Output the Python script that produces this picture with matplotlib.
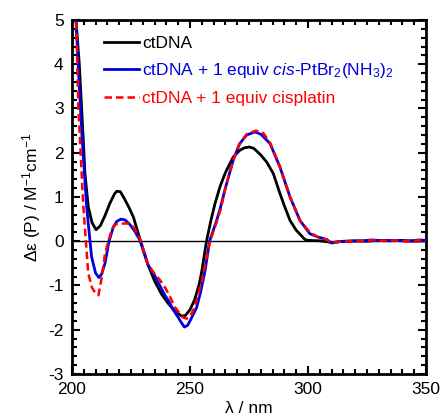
import numpy as np
import matplotlib
matplotlib.use("Agg")
import matplotlib.pyplot as plt
from matplotlib.ticker import MultipleLocator

plt.rcParams['font.family'] = ['Liberation Sans', 'DejaVu Sans']
plt.rcParams['mathtext.fontset'] = 'custom'
plt.rcParams['mathtext.rm'] = 'Liberation Sans'
plt.rcParams['mathtext.it'] = 'Liberation Sans:italic'
plt.rcParams['mathtext.default'] = 'regular'
plt.rcParams['axes.unicode_minus'] = False

# ctDNA
x_ct = [200, 201.7, 203.1, 204.8, 205.5, 206.9, 208.5, 210.2, 212, 214, 216, 218, 219,
        220.5, 222, 224, 226, 228.8, 232, 235, 238, 241, 244, 246.5, 248, 250, 252,
        254, 255, 257, 259, 260.6, 262.7, 265, 268.3, 271, 273, 275.1, 277, 280, 282.5,
        285.3, 288, 290, 292.4, 295, 298.7, 300, 305, 308, 310, 312, 315, 320, 325, 330,
        335, 340, 345, 350]
y_ct = [6.3, 5.0, 4.0, 2.28, 1.53, 0.78, 0.42, 0.26, 0.35, 0.58, 0.85, 1.07, 1.13,
        1.12, 0.98, 0.78, 0.55, 0.05, -0.5, -0.9, -1.2, -1.42, -1.6, -1.69, -1.68, -1.55, -1.32,
        -0.95, -0.68, 0.0, 0.5, 0.85, 1.23, 1.55, 1.9, 2.05, 2.11, 2.13, 2.1, 1.95, 1.79,
        1.53, 1.1, 0.8, 0.47, 0.25, 0.04, 0.02, 0.01, -0.01, -0.03, -0.02, 0.0, 0.01, 0.0, 0.02,
        0.01, 0.02, 0.0, 0.01]

# ctDNA + cis-PtBr2(NH3)2
x_br = [200, 201.7, 203, 204.1, 206.2, 208.3, 210, 211.4, 212.5, 214, 215.7, 217.5, 219,
        220.8, 222.5, 224.5, 226.7, 228.8, 232.3, 234.5, 237, 239.4, 241, 242.9, 245, 246.5,
        247.6, 249, 250.5, 252.8, 254.5, 256.4, 258.3, 261.3, 262.7, 265, 268.3, 271, 274,
        277.5, 280, 283.9, 288.1, 292.4, 296.6, 300.8, 304, 307.9, 310, 313, 318, 323, 327,
        332, 337, 342, 347, 350]
y_br = [6.0, 5.0, 3.6, 2.5, 0.78, -0.35, -0.72, -0.82, -0.75, -0.5, 0.0, 0.32, 0.45,
        0.50, 0.48, 0.38, 0.22, 0.02, -0.55, -0.72, -0.98, -1.22, -1.35, -1.55, -1.72, -1.85,
        -1.94, -1.9, -1.75, -1.5, -1.15, -0.66, 0.0, 0.47, 0.72, 1.2, 1.83, 2.2, 2.4,
        2.47, 2.42, 2.21, 1.68, 1.0, 0.47, 0.17, 0.1, 0.04, -0.04, -0.01, 0.0, 0.01, 0.03,
        0.01, 0.02, 0.0, 0.03, 0.02]

# ctDNA + cisplatin
x_cp = [200, 201.8, 202.7, 203.4, 204.8, 206.9, 208.5, 210, 211.2, 212.5, 214, 215.4, 217,
        218.5, 220, 222, 224, 225.5, 227.5, 229, 232, 234.5, 237.3, 239.5, 241.5, 243.5,
        245.5, 247, 248.6, 250, 251.5, 253, 255, 256.5, 258.5, 261.5, 263, 265, 268.3, 271,
        274, 278, 281, 284, 288, 292.4, 296.6, 300.8, 304, 308, 310, 313, 318, 323, 327, 332,
        337, 342, 347, 350]
y_cp = [6.0, 5.0, 3.0, 2.28, 0.78, -0.73, -1.05, -1.18, -1.22, -0.85, -0.28, 0.0, 0.28,
        0.38, 0.40, 0.40, 0.40, 0.36, 0.2, 0.03, -0.5, -0.7, -0.88, -1.05, -1.25, -1.48,
        -1.62, -1.72, -1.75, -1.7, -1.55, -1.3, -0.9, -0.5, 0.0, 0.47, 0.72, 1.2, 1.83, 2.2,
        2.42, 2.5, 2.45, 2.22, 1.7, 1.0, 0.47, 0.2, 0.1, 0.03, -0.03, -0.01, 0.0, 0.01, 0.02,
        0.01, 0.02, 0.0, 0.02, 0.01]

fs = 12.5

fig = plt.figure(figsize=(4.4, 4.19), dpi=100)
ax = fig.add_axes([0.1636, 0.1074, 0.8045, 0.8449])

ax.axhline(0, color='black', lw=1.0, zorder=1)
ax.plot(x_ct, y_ct, color='black', lw=2.0, label='ctDNA', zorder=2,
        solid_joinstyle='round')
ax.plot(x_br, y_br, color='#0000dd', lw=2.0, solid_joinstyle='round',
        label='ctDNA + 1 equiv $\\mathit{cis}$-PtBr$_2$(NH$_3$)$_2$', zorder=3)
ax.plot(x_cp, y_cp, color='#ff0000', lw=1.8, ls=(0, (3, 1.6)),
        label='ctDNA + 1 equiv cisplatin', zorder=4)

ax.set_xlim(200, 350)
ax.set_ylim(-3, 5)
ax.xaxis.set_major_locator(MultipleLocator(50))
ax.xaxis.set_minor_locator(MultipleLocator(5))
ax.yaxis.set_major_locator(MultipleLocator(1))
ax.yaxis.set_minor_locator(MultipleLocator(0.2))
ax.tick_params(which='both', direction='in', top=True, right=True, width=1.5,
               labelsize=fs)
ax.tick_params(which='major', length=6, pad=6)
ax.tick_params(which='minor', length=3.5)
for s in ax.spines.values():
    s.set_linewidth(2)

ax.set_xlabel('λ / nm', fontsize=fs, labelpad=3)
ax.set_ylabel('Δε (P) / M$^{-1}$cm$^{-1}$', fontsize=fs, labelpad=4)

leg = ax.legend(loc='upper left', bbox_to_anchor=(0.045, 1.0), frameon=False,
                fontsize=fs, handlelength=2.05, handletextpad=0.18, labelspacing=0.6)
for t, l in zip(leg.get_texts(), ['black', '#0000dd', '#ff0000']):
    t.set_color(l)

fig.savefig('out.png', dpi=100)
